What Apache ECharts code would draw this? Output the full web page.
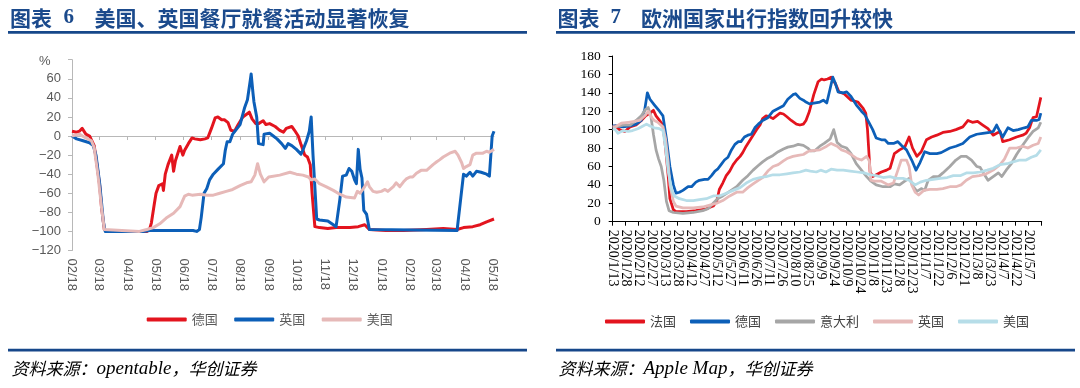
<!DOCTYPE html>
<html><head><meta charset="utf-8">
<script src="https://cdn.jsdelivr.net/npm/echarts/dist/echarts.min.js"></script>
<style>html,body{margin:0;padding:0;background:#fff}#c{width:1080px;height:388px}</style>
</head><body><div id="c"></div>
<script>
// ---------- Left chart: 美国、英国餐厅就餐活动显著恢复 ----------
const leftTickDates = ['2020-02-18','2020-03-18','2020-04-18','2020-05-18','2020-06-18','2020-07-18','2020-08-18','2020-09-18','2020-10-18','2020-11-18','2020-12-18','2021-01-18','2021-02-18','2021-03-18','2021-04-18','2021-05-18'];
const leftTickLabels = ['02/18','03/18','04/18','05/18','06/18','07/18','08/18','09/18','10/18','11/18','12/18','01/18','02/18','03/18','04/18','05/18'];
const leftStart = '2020-02-18', leftEnd = '2021-05-20';
const leftYTicks = [-120,-100,-80,-60,-40,-20,0,20,40,60,80];

const deGermany = [['2020-02-18',5],['2020-02-23',4],['2020-02-26',5],['2020-02-29',8],['2020-03-04',2],['2020-03-08',0],['2020-03-10',-2],['2020-03-13',-10],['2020-03-16',-30],['2020-03-19',-52],['2020-03-21',-75],['2020-03-24',-98],['2020-03-27',-100],['2020-05-09',-100],['2020-05-12',-98],['2020-05-14',-91],['2020-05-17',-72],['2020-05-19',-60],['2020-05-22',-52],['2020-05-26',-50],['2020-05-27',-57],['2020-05-29',-40],['2020-06-01',-30],['2020-06-05',-20],['2020-06-07',-37],['2020-06-09',-26],['2020-06-14',-11],['2020-06-17',-20],['2020-06-19',-15],['2020-06-23',-8],['2020-06-27',-2],['2020-06-30',-3],['2020-07-06',-4],['2020-07-11',-3],['2020-07-14',-2],['2020-07-18',8],['2020-07-22',19],['2020-07-25',20],['2020-07-29',17],['2020-08-01',17],['2020-08-05',14],['2020-08-08',6],['2020-08-12',5],['2020-08-16',12],['2020-08-21',20],['2020-08-28',25],['2020-08-31',18],['2020-09-04',13],['2020-09-07',13],['2020-09-12',16],['2020-09-15',12],['2020-09-19',13],['2020-09-25',10],['2020-09-30',6],['2020-10-04',4],['2020-10-07',8],['2020-10-13',10],['2020-10-16',6],['2020-10-20',0],['2020-10-23',-9],['2020-10-27',-20],['2020-10-30',-22],['2020-11-01',-20],['2020-11-02',-30],['2020-11-04',-60],['2020-11-07',-95],['2020-11-12',-96],['2020-11-21',-97],['2020-11-30',-96],['2020-12-15',-96],['2020-12-24',-95],['2020-12-31',-93],['2021-01-05',-98],['2021-01-23',-99],['2021-02-11',-99],['2021-03-08',-98],['2021-03-26',-97],['2021-04-10',-98],['2021-04-17',-96],['2021-04-27',-95],['2021-05-05',-93],['2021-05-12',-90],['2021-05-20',-87]];

const ukDining = [['2020-02-18',0],['2020-02-23',-3],['2020-03-01',-5],['2020-03-08',-7],['2020-03-12',-10],['2020-03-15',-20],['2020-03-19',-50],['2020-03-23',-90],['2020-03-25',-100],['2020-05-05',-100],['2020-05-12',-99],['2020-06-07',-99],['2020-06-28',-99],['2020-07-02',-100],['2020-07-05',-98],['2020-07-07',-85],['2020-07-10',-60],['2020-07-13',-55],['2020-07-16',-46],['2020-07-20',-40],['2020-07-25',-35],['2020-07-31',-29],['2020-08-02',-15],['2020-08-04',-6],['2020-08-07',-6],['2020-08-09',-5],['2020-08-10',2],['2020-08-14',7],['2020-08-18',12],['2020-08-23',30],['2020-08-26',38],['2020-08-28',40],['2020-08-29',58],['2020-08-30',65],['2020-09-01',45],['2020-09-02',36],['2020-09-04',35],['2020-09-05',20],['2020-09-07',-8],['2020-09-12',-9],['2020-09-13',2],['2020-09-19',3],['2020-09-23',0],['2020-09-27',-3],['2020-10-02',-8],['2020-10-06',-13],['2020-10-09',-8],['2020-10-13',-10],['2020-10-18',-14],['2020-10-23',-19],['2020-10-25',-15],['2020-10-29',-5],['2020-11-01',5],['2020-11-03',20],['2020-11-05',-20],['2020-11-09',-87],['2020-11-12',-88],['2020-11-21',-89],['2020-11-27',-93],['2020-11-30',-95],['2020-12-04',-67],['2020-12-07',-42],['2020-12-11',-41],['2020-12-14',-34],['2020-12-17',-37],['2020-12-20',-46],['2020-12-22',-50],['2020-12-24',-14],['2020-12-26',-35],['2020-12-28',-44],['2020-12-30',-78],['2021-01-02',-82],['2021-01-05',-98],['2021-04-10',-99],['2021-04-11',-98],['2021-04-17',-40],['2021-04-20',-42],['2021-04-24',-38],['2021-04-27',-42],['2021-05-01',-37],['2021-05-06',-38],['2021-05-12',-40],['2021-05-15',-42],['2021-05-18',0],['2021-05-20',5]];

const usDining = [['2020-02-18',0],['2020-02-26',2],['2020-03-04',-2],['2020-03-10',-5],['2020-03-13',-12],['2020-03-17',-40],['2020-03-21',-75],['2020-03-24',-98],['2020-03-26',-100],['2020-05-01',-100],['2020-05-09',-98],['2020-05-16',-96],['2020-05-23',-92],['2020-05-30',-86],['2020-06-07',-81],['2020-06-14',-74],['2020-06-19',-63],['2020-06-23',-61],['2020-06-27',-62],['2020-07-06',-61],['2020-07-13',-62],['2020-07-20',-62],['2020-07-27',-60],['2020-08-03',-58],['2020-08-10',-56],['2020-08-18',-52],['2020-08-25',-49],['2020-08-30',-48],['2020-09-03',-41],['2020-09-06',-29],['2020-09-09',-40],['2020-09-13',-48],['2020-09-18',-43],['2020-09-30',-41],['2020-10-11',-38],['2020-10-18',-40],['2020-10-25',-41],['2020-10-31',-43],['2020-11-03',-46],['2020-11-07',-45],['2020-11-12',-50],['2020-11-19',-53],['2020-11-27',-57],['2020-12-04',-61],['2020-12-11',-64],['2020-12-20',-65],['2020-12-23',-58],['2020-12-26',-60],['2020-12-28',-62],['2020-12-31',-53],['2021-01-03',-48],['2021-01-05',-53],['2021-01-09',-58],['2021-01-13',-59],['2021-01-18',-58],['2021-01-22',-56],['2021-01-25',-58],['2021-01-31',-53],['2021-02-03',-49],['2021-02-07',-53],['2021-02-11',-48],['2021-02-14',-45],['2021-02-18',-43],['2021-02-21',-43],['2021-02-25',-39],['2021-03-02',-36],['2021-03-08',-36],['2021-03-15',-30],['2021-03-19',-27],['2021-03-22',-25],['2021-03-26',-22],['2021-04-02',-18],['2021-04-08',-16],['2021-04-11',-20],['2021-04-15',-28],['2021-04-17',-34],['2021-04-20',-32],['2021-04-24',-30],['2021-04-27',-20],['2021-05-01',-18],['2021-05-08',-18],['2021-05-12',-16],['2021-05-15',-17],['2021-05-20',-14]];

// ---------- Right chart: 欧洲国家出行指数回升较快 ----------
const rightTickLabels = ['2020/1/13','2020/1/28','2020/2/12','2020/2/27','2020/3/13','2020/3/28','2020/4/12','2020/4/27','2020/5/12','2020/5/27','2020/6/11','2020/6/26','2020/7/11','2020/7/26','2020/8/10','2020/8/25','2020/9/9','2020/9/24','2020/10/9','2020/10/24','2020/11/8','2020/11/23','2020/12/8','2020/12/23','2021/1/7','2021/1/22','2021/2/6','2021/2/21','2021/3/8','2021/3/23','2021/4/7','2021/4/22','2021/5/7'];
const rightEnd = '2021/5/22';
const rightYTicks = [0,20,40,60,80,100,120,140,160,180];

const france = [['2020-01-13',103],['2020-01-16',104],['2020-01-21',100],['2020-01-27',98],['2020-02-02',103],['2020-02-09',105],['2020-02-15',110],['2020-02-20',115],['2020-02-25',118],['2020-02-29',121],['2020-03-03',115],['2020-03-07',110],['2020-03-11',105],['2020-03-14',80],['2020-03-17',50],['2020-03-19',25],['2020-03-23',13],['2020-03-26',11],['2020-04-07',11],['2020-04-18',12],['2020-04-30',14],['2020-05-08',17],['2020-05-12',22],['2020-05-15',35],['2020-05-19',42],['2020-05-23',50],['2020-05-27',55],['2020-05-31',62],['2020-06-04',67],['2020-06-08',71],['2020-06-11',75],['2020-06-15',82],['2020-06-19',88],['2020-06-23',94],['2020-06-27',100],['2020-07-01',105],['2020-07-04',112],['2020-07-08',115],['2020-07-12',114],['2020-07-16',112],['2020-07-20',115],['2020-07-24',118],['2020-07-28',117],['2020-08-01',114],['2020-08-06',110],['2020-08-12',106],['2020-08-16',105],['2020-08-20',106],['2020-08-23',110],['2020-08-27',120],['2020-09-01',138],['2020-09-06',152],['2020-09-10',155],['2020-09-13',154],['2020-09-17',155],['2020-09-21',157],['2020-09-26',150],['2020-09-30',141],['2020-10-06',139],['2020-10-14',132],['2020-10-22',130],['2020-10-28',123],['2020-10-31',118],['2020-11-02',100],['2020-11-05',54],['2020-11-08',49],['2020-11-18',54],['2020-11-24',56],['2020-11-28',58],['2020-12-03',74],['2020-12-09',78],['2020-12-15',81],['2020-12-20',92],['2020-12-24',80],['2020-12-29',71],['2021-01-03',76],['2021-01-09',89],['2021-01-15',92],['2021-01-21',94],['2021-01-28',97],['2021-02-05',98],['2021-02-12',100],['2021-02-20',103],['2021-02-26',110],['2021-03-03',108],['2021-03-09',109],['2021-03-15',105],['2021-03-21',101],['2021-03-27',94],['2021-03-31',96],['2021-04-04',98],['2021-04-07',87],['2021-04-15',89],['2021-04-23',92],['2021-04-30',94],['2021-05-04',96],['2021-05-08',102],['2021-05-12',113],['2021-05-16',114],['2021-05-18',116],['2021-05-21',135]];

const germany = [['2020-01-13',104],['2020-01-17',104],['2020-01-25',103],['2020-02-02',104],['2020-02-09',106],['2020-02-15',110],['2020-02-19',122],['2020-02-22',140],['2020-02-25',133],['2020-03-01',127],['2020-03-07',120],['2020-03-11',115],['2020-03-15',90],['2020-03-19',60],['2020-03-23',40],['2020-03-26',31],['2020-03-30',32],['2020-04-03',34],['2020-04-09',38],['2020-04-13',38],['2020-04-18',43],['2020-04-22',45],['2020-04-28',46],['2020-05-02',46],['2020-05-06',50],['2020-05-10',55],['2020-05-13',57],['2020-05-17',62],['2020-05-21',67],['2020-05-25',70],['2020-05-29',78],['2020-06-02',84],['2020-06-06',87],['2020-06-09',87],['2020-06-13',92],['2020-06-17',94],['2020-06-21',95],['2020-06-25',102],['2020-06-29',106],['2020-07-04',110],['2020-07-10',113],['2020-07-16',120],['2020-07-22',123],['2020-07-28',126],['2020-08-02',133],['2020-08-08',138],['2020-08-11',139],['2020-08-16',134],['2020-08-20',132],['2020-08-23',130],['2020-08-27',128],['2020-09-08',130],['2020-09-12',132],['2020-09-16',129],['2020-09-20',145],['2020-09-23',157],['2020-09-26',150],['2020-09-29',141],['2020-10-05',140],['2020-10-09',141],['2020-10-14',136],['2020-10-20',127],['2020-10-26',120],['2020-10-30',116],['2020-11-03',109],['2020-11-08',100],['2020-11-12',91],['2020-11-18',89],['2020-11-22',89],['2020-11-26',85],['2020-12-02',85],['2020-12-07',87],['2020-12-11',83],['2020-12-17',78],['2020-12-23',67],['2020-12-28',56],['2021-01-01',63],['2021-01-07',76],['2021-01-13',74],['2021-01-21',74],['2021-01-26',75],['2021-02-05',80],['2021-02-12',82],['2021-02-20',85],['2021-02-28',92],['2021-03-08',95],['2021-03-15',96],['2021-03-23',97],['2021-03-27',98],['2021-03-31',105],['2021-04-07',92],['2021-04-13',102],['2021-04-19',99],['2021-04-25',100],['2021-05-02',102],['2021-05-06',103],['2021-05-10',110],['2021-05-16',110],['2021-05-19',111],['2021-05-21',118]];

const italy = [['2020-01-13',103],['2020-01-16',103],['2020-01-25',105],['2020-02-02',105],['2020-02-09',110],['2020-02-15',115],['2020-02-20',122],['2020-02-23',124],['2020-02-26',115],['2020-02-29',95],['2020-03-03',78],['2020-03-06',68],['2020-03-09',60],['2020-03-12',45],['2020-03-15',22],['2020-03-18',12],['2020-03-23',10],['2020-04-03',9],['2020-04-15',10],['2020-04-26',12],['2020-05-02',14],['2020-05-08',20],['2020-05-13',25],['2020-05-19',28],['2020-05-27',33],['2020-06-04',38],['2020-06-11',45],['2020-06-17',50],['2020-06-23',56],['2020-06-29',61],['2020-07-04',65],['2020-07-10',69],['2020-07-16',72],['2020-07-22',76],['2020-07-28',79],['2020-08-02',81],['2020-08-08',82],['2020-08-14',84],['2020-08-20',83],['2020-08-25',80],['2020-08-28',77],['2020-09-02',77],['2020-09-08',82],['2020-09-13',85],['2020-09-20',90],['2020-09-24',100],['2020-09-28',86],['2020-10-03',82],['2020-10-09',80],['2020-10-14',74],['2020-10-20',63],['2020-10-26',56],['2020-11-01',49],['2020-11-06',44],['2020-11-12',40],['2020-11-20',38],['2020-11-28',38],['2020-12-03',41],['2020-12-09',40],['2020-12-15',44],['2020-12-20',47],['2020-12-25',38],['2020-12-29',33],['2021-01-03',36],['2021-01-07',34],['2021-01-11',45],['2021-01-17',49],['2021-01-23',49],['2021-01-28',53],['2021-02-05',60],['2021-02-12',67],['2021-02-18',71],['2021-02-24',71],['2021-03-02',67],['2021-03-08',60],['2021-03-12',59],['2021-03-15',54],['2021-03-21',45],['2021-03-27',49],['2021-04-02',53],['2021-04-06',49],['2021-04-11',56],['2021-04-17',63],['2021-04-23',73],['2021-04-30',83],['2021-05-06',91],['2021-05-12',98],['2021-05-18',102],['2021-05-21',108]];

const britain = [['2020-01-13',103],['2020-01-16',103],['2020-01-23',107],['2020-01-31',108],['2020-02-07',109],['2020-02-13',110],['2020-02-19',115],['2020-02-23',120],['2020-02-27',113],['2020-03-01',110],['2020-03-05',108],['2020-03-11',103],['2020-03-14',90],['2020-03-17',65],['2020-03-19',40],['2020-03-23',22],['2020-03-26',17],['2020-04-03',15],['2020-04-15',15],['2020-04-26',16],['2020-05-04',18],['2020-05-12',20],['2020-05-19',23],['2020-05-27',28],['2020-06-04',32],['2020-06-11',32],['2020-06-17',37],['2020-06-23',41],['2020-06-29',45],['2020-07-04',48],['2020-07-10',55],['2020-07-16',60],['2020-07-22',62],['2020-07-28',66],['2020-08-02',69],['2020-08-08',71],['2020-08-14',72],['2020-08-20',73],['2020-08-25',76],['2020-08-28',77],['2020-09-08',78],['2020-09-16',82],['2020-09-21',85],['2020-09-28',82],['2020-10-03',78],['2020-10-09',76],['2020-10-14',73],['2020-10-20',69],['2020-10-26',67],['2020-11-01',71],['2020-11-04',66],['2020-11-06',45],['2020-11-10',44],['2020-11-18',44],['2020-11-26',40],['2020-12-02',42],['2020-12-06',53],['2020-12-11',67],['2020-12-17',67],['2020-12-20',60],['2020-12-23',40],['2020-12-27',32],['2020-12-31',29],['2021-01-06',34],['2021-01-13',35],['2021-01-21',35],['2021-01-28',36],['2021-02-05',38],['2021-02-12',38],['2021-02-18',40],['2021-02-24',45],['2021-03-03',49],['2021-03-11',50],['2021-03-19',52],['2021-03-27',56],['2021-04-04',62],['2021-04-09',68],['2021-04-15',80],['2021-04-23',80],['2021-04-30',82],['2021-05-06',80],['2021-05-12',83],['2021-05-18',85],['2021-05-21',92]];

const usa = [['2020-01-13',101],['2020-01-16',100],['2020-01-19',96],['2020-01-25',99],['2020-01-31',98],['2020-02-05',99],['2020-02-11',101],['2020-02-17',104],['2020-02-21',106],['2020-02-25',104],['2020-03-01',102],['2020-03-07',101],['2020-03-11',99],['2020-03-14',80],['2020-03-17',55],['2020-03-21',35],['2020-03-24',28],['2020-03-30',25],['2020-04-07',23],['2020-04-15',23],['2020-04-22',24],['2020-04-30',25],['2020-05-08',28],['2020-05-15',28],['2020-05-23',31],['2020-05-31',34],['2020-06-08',37],['2020-06-15',42],['2020-06-23',46],['2020-07-01',48],['2020-07-08',49],['2020-07-16',51],['2020-07-24',51],['2020-08-01',52],['2020-08-08',53],['2020-08-16',54],['2020-08-23',56],['2020-08-28',55],['2020-09-04',54],['2020-09-09',56],['2020-09-15',54],['2020-09-21',57],['2020-09-28',56],['2020-10-05',56],['2020-10-13',55],['2020-10-21',54],['2020-10-29',53],['2020-11-05',51],['2020-11-12',50],['2020-11-20',48],['2020-11-28',49],['2020-12-05',47],['2020-12-13',47],['2020-12-20',45],['2020-12-27',40],['2021-01-02',43],['2021-01-09',45],['2021-01-17',46],['2021-01-25',47],['2021-02-02',48],['2021-02-09',50],['2021-02-17',50],['2021-02-24',53],['2021-03-04',53],['2021-03-12',54],['2021-03-20',56],['2021-03-27',58],['2021-04-04',62],['2021-04-12',63],['2021-04-19',65],['2021-04-27',67],['2021-05-04',67],['2021-05-10',70],['2021-05-16',72],['2021-05-21',78]];

// ---------- helpers ----------
function ts(s){ const p = s.split(/[-\/]/).map(Number); return new Date(p[0], p[1]-1, p[2]).getTime(); }
function toTs(arr){ return arr.map(d => [ts(d[0]), d[1]]); }
const leftTs = leftTickDates.map(ts);
const rightLabelTs = rightTickLabels.map(ts);
const rightTickTs = rightLabelTs.concat([ts(rightEnd)]);
// Labels split over two overlaid axes so that ECharts' first/last-label overlap check never drops one
const rightEvenTs = rightLabelTs.filter((_, i) => i % 2 === 0);
const rightOddTs = rightLabelTs.filter((_, i) => i % 2 === 1);
function minusFmt(v){ return v < 0 ? '\u2212' + (-v) : String(v); }
function nearestLabel(tsList, labels, v){
  let best = -1, bd = Infinity;
  for (let i = 0; i < tsList.length; i++) { const d = Math.abs(tsList[i] - v); if (d < bd) { bd = d; best = i; } }
  return bd < 36e5 * 12 ? labels[best] : '';
}

const RED = '#e3141e', BLUE = '#0c5fb8', PINK = '#e6b9b8', GREY = '#a6a6a6', LBLUE = '#b6dde8';
const NAVY = '#1b4a8c';
const sansFont = 'Liberation Sans';
const serifFont = 'Liberation Serif';
const cjk = 'Noto Sans CJK SC';

const rightLabelStyle = {rotate: -90, margin: 8, fontSize: 14, fontFamily: serifFont, color: '#000',
  hideOverlap: false, showMinLabel: true, showMaxLabel: true,
  formatter: v => nearestLabel(rightLabelTs, rightTickLabels, v)};

const chart = echarts.init(document.getElementById('c'), null, {renderer: 'canvas'});
const srcRich = {
  c: {fontSize: 17, fontStyle: 'italic', fontFamily: cjk, color: '#234f90'},
  l: {fontSize: 19, fontStyle: 'italic', fontFamily: serifFont, color: '#234f90'}
};
const option = {
  animation: false,
  backgroundColor: '#fff',
  grid: [
    {left: 72, top: 59.7, width: 422, height: 190.8, containLabel: false},
    {left: 612.7, top: 56, width: 429, height: 165.7, containLabel: false}
  ],
  xAxis: [
    { type: 'value', gridIndex: 0, min: ts(leftStart), max: ts(leftEnd),
      axisLine: {show: false, onZero: false}, axisTick: {show: false}, splitLine: {show: false},
      axisLabel: {customValues: leftTs, rotate: -90, margin: 8, fontSize: 13, fontFamily: sansFont, color: '#595959',
        hideOverlap: false, showMinLabel: true, showMaxLabel: true,
        formatter: v => nearestLabel(leftTs, leftTickLabels, v)} },
    { type: 'value', gridIndex: 0, min: ts(leftStart), max: ts(leftEnd), position: 'bottom',
      axisLine: {show: true, onZero: true, lineStyle: {color: '#b8b8b8', width: 1}},
      axisTick: {show: true, customValues: leftTs, length: 4, lineStyle: {color: '#b8b8b8'}},
      axisLabel: {show: false}, splitLine: {show: false} },
    { type: 'value', gridIndex: 1, min: ts('2020/1/13'), max: ts(rightEnd), position: 'bottom',
      axisLine: {show: true, onZero: false, lineStyle: {color: '#000', width: 1}},
      axisTick: {show: true, customValues: rightTickTs, length: 4, lineStyle: {color: '#000'}},
      splitLine: {show: false},
      axisLabel: Object.assign({customValues: rightEvenTs}, rightLabelStyle) },
    { type: 'value', gridIndex: 1, min: ts('2020/1/13'), max: ts(rightEnd), position: 'bottom', offset: 0,
      axisLine: {show: false, onZero: false}, axisTick: {show: false}, splitLine: {show: false},
      axisLabel: Object.assign({customValues: rightOddTs}, rightLabelStyle) }
  ],
  yAxis: [
    { type: 'value', gridIndex: 0, min: leftYTicks[0], max: leftYTicks[leftYTicks.length-1], interval: 20,
      axisLine: {show: true, onZero: false, lineStyle: {color: '#b8b8b8'}},
      axisTick: {show: true, length: 4, lineStyle: {color: '#b8b8b8'}},
      splitLine: {show: false},
      axisLabel: {margin: 11, fontSize: 13, fontFamily: sansFont, color: '#595959',
        formatter: v => v === 80 ? '' : minusFmt(v)} },
    { type: 'value', gridIndex: 1, min: rightYTicks[0], max: rightYTicks[rightYTicks.length-1], interval: 20,
      axisLine: {show: true, onZero: false, lineStyle: {color: '#000'}},
      axisTick: {show: true, length: 4, lineStyle: {color: '#000'}},
      splitLine: {show: false},
      axisLabel: {margin: 12, fontSize: 13.5, fontFamily: serifFont, color: '#000'} }
  ],
  legend: [
    { left: 146.7, top: 312.5, padding: 0, itemWidth: 40, itemHeight: 4, itemGap: 16.5, icon: 'roundRect',
      selectedMode: false,
      textStyle: {fontSize: 13, fontFamily: cjk, color: '#595959', lineHeight: 14},
      data: ['德国', '英国', '美国'] },
    { left: 605, top: 314.5, padding: 0, itemWidth: 40, itemHeight: 4, itemGap: 14, icon: 'roundRect',
      selectedMode: false,
      textStyle: {fontSize: 13, fontFamily: cjk, color: '#404040', lineHeight: 14},
      formatter: n => n.replace(/^R-/, ''),
      data: ['R-法国', 'R-德国', 'R-意大利', 'R-英国', 'R-美国'] }
  ],
  series: [
    {name: '德国', type: 'line', xAxisIndex: 0, yAxisIndex: 0, data: toTs(deGermany), showSymbol: false, symbol: 'none', color: RED, lineStyle: {width: 3, color: RED, join: 'round'}},
    {name: '英国', type: 'line', xAxisIndex: 0, yAxisIndex: 0, data: toTs(ukDining), showSymbol: false, symbol: 'none', color: BLUE, lineStyle: {width: 3, color: BLUE, join: 'round'}},
    {name: '美国', type: 'line', xAxisIndex: 0, yAxisIndex: 0, data: toTs(usDining), showSymbol: false, symbol: 'none', color: PINK, lineStyle: {width: 3, color: PINK, join: 'round'}},
    {name: 'R-法国', type: 'line', xAxisIndex: 2, yAxisIndex: 1, data: toTs(france), showSymbol: false, symbol: 'none', color: RED, lineStyle: {width: 2.75, color: RED, join: 'round'}},
    {name: 'R-德国', type: 'line', xAxisIndex: 2, yAxisIndex: 1, data: toTs(germany), showSymbol: false, symbol: 'none', color: BLUE, lineStyle: {width: 2.75, color: BLUE, join: 'round'}},
    {name: 'R-意大利', type: 'line', xAxisIndex: 2, yAxisIndex: 1, data: toTs(italy), showSymbol: false, symbol: 'none', color: GREY, lineStyle: {width: 2.75, color: GREY, join: 'round'}},
    {name: 'R-英国', type: 'line', xAxisIndex: 2, yAxisIndex: 1, data: toTs(britain), showSymbol: false, symbol: 'none', color: PINK, lineStyle: {width: 2.75, color: PINK, join: 'round'}},
    {name: 'R-美国', type: 'line', xAxisIndex: 2, yAxisIndex: 1, data: toTs(usa), showSymbol: false, symbol: 'none', color: LBLUE, lineStyle: {width: 2.75, color: LBLUE, join: 'round'}}
  ],
  graphic: [
    {type: 'text', x: 10, y: 18, style: {text: '图表', font: 'bold 21px "' + cjk + '"', fill: NAVY, verticalAlign: 'middle'}},
    {type: 'text', x: 63.5, y: 18, style: {text: '6', font: 'bold 21px "' + serifFont + '"', fill: NAVY, verticalAlign: 'middle'}},
    {type: 'text', x: 94.5, y: 18, style: {text: '美国、英国餐厅就餐活动显著恢复', font: 'bold 21px "' + cjk + '"', fill: NAVY, verticalAlign: 'middle'}},
    {type: 'text', x: 557.5, y: 18, style: {text: '图表', font: 'bold 21px "' + cjk + '"', fill: NAVY, verticalAlign: 'middle'}},
    {type: 'text', x: 610.5, y: 18, style: {text: '7', font: 'bold 21px "' + serifFont + '"', fill: NAVY, verticalAlign: 'middle'}},
    {type: 'text', x: 641, y: 18, style: {text: '欧洲国家出行指数回升较快', font: 'bold 21px "' + cjk + '"', fill: NAVY, verticalAlign: 'middle'}},
    {type: 'rect', shape: {x: 8, y: 31, width: 519, height: 2.7}, style: {fill: '#16478a'}},
    {type: 'rect', shape: {x: 556, y: 31, width: 519, height: 2.7}, style: {fill: '#16478a'}},
    {type: 'rect', shape: {x: 8, y: 348.7, width: 519, height: 2.7}, style: {fill: '#16478a'}},
    {type: 'rect', shape: {x: 556, y: 348.7, width: 519, height: 2.7}, style: {fill: '#16478a'}},
    {type: 'text', x: 39, y: 61.5, style: {text: '%', font: '13px "' + sansFont + '"', fill: '#595959', verticalAlign: 'middle'}},
    {type: 'text', x: 11.5, y: 368.5, style: {text: '{c|资料来源：}{l|opentable}{c|，华创证券}', rich: srcRich, verticalAlign: 'middle'}},
    {type: 'text', x: 558.5, y: 368.5, style: {text: '{c|资料来源：}{l|Apple Map}{c|，华创证券}', rich: srcRich, verticalAlign: 'middle'}}
  ]
};
chart.setOption(option);
</script>
</body></html>
